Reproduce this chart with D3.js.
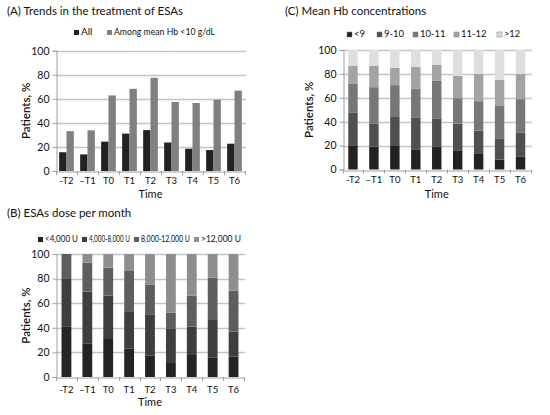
<!DOCTYPE html>
<html><head><meta charset="utf-8">
<script src="https://cdn.jsdelivr.net/npm/d3@7"></script>
<style>
body{margin:0;background:#fff;}
svg{display:block;font-family:Lato,"Open Sans",sans-serif;}
</style></head>
<body>
<script>
// ---- data ----
const categories = ["-T2", "\u2013T1", "T0", "T1", "T2", "T3", "T4", "T5", "T6"];
const yTicks = [0, 20, 40, 60, 80, 100];

// (A) Trends in the treatment of ESAs
const treatSeries = ["All", "Among mean Hb <10 g/dL"];
const treatAll   = [15.6, 13.8, 24.4, 31.1, 34.0, 23.7, 18.5, 17.4, 22.7];
const treatLowHb = [33.1, 33.8, 62.8, 68.3, 77.5, 57.4, 56.5, 59.3, 66.8];

// (C) Mean Hb concentrations
const hbSeries = ["<9", "9-10", "10-11", "11-12", ">12"];
const hbLt9    = [20.3, 19.2, 20.3, 16.4, 18.9, 16.1, 13.0, 8.3, 10.6];
const hb9to10  = [27.5, 19.4, 23.6, 27.2, 23.9, 22.2, 19.5, 17.8, 20.5];
const hb10to11 = [24.2, 30.3, 26.7, 23.9, 31.4, 21.4, 24.7, 27.5, 27.8];
const hb11to12 = [14.7, 17.8, 14.4, 18.3, 13.6, 18.6, 22.8, 21.4, 21.1];
const hbGt12   = [13.3, 13.3, 15.0, 14.2, 12.2, 21.7, 20.0, 25.0, 20.0];

// (B) ESAs dose per month
const doseSeries = ["<4,000 U", "4,000-8,000 U", "8,000-12,000 U", ">12,000 U"];
const doseLt4k   = [40.8, 27.0, 31.6, 23.0, 17.3, 11.4, 18.6, 16.0, 16.8];
const dose4to8k  = [38.9, 42.5, 34.6, 30.5, 33.7, 28.1, 22.4, 31.0, 20.2];
const dose8to12k = [20.3, 23.5, 22.7, 32.7, 23.9, 12.9, 25.0, 33.8, 33.3];
const doseGt12k  = [0.0, 7.0, 11.1, 13.8, 25.1, 47.6, 34.0, 19.2, 29.7];

// ---- drawing ----
const svg = d3.select("body").append("svg").attr("width", 550).attr("height", 415);

function panel(cfg) {
  const g = svg.append("g");
  const x = d3.scaleBand().domain(categories).range([cfg.x0, cfg.x1]);
  const y = d3.scaleLinear().domain([0, 100]).range([cfg.y0, cfg.y1]);

  // title
  g.append("text").attr("x", cfg.titleX).attr("y", cfg.titleY)
    .attr("font-size", 11.5).attr("fill", "#111").text(cfg.title);

  // gridlines
  g.append("g").selectAll("line").data(yTicks.filter(d => d > 0)).join("line")
    .attr("x1", cfg.x0).attr("x2", cfg.x1 + 1)
    .attr("y1", d => Math.round(y(d)) + 0.5).attr("y2", d => Math.round(y(d)) + 0.5)
    .attr("stroke", "#c4c4c4").attr("stroke-width", 1.3);

  // y axis
  const ya = g.append("g").attr("transform", `translate(${Math.round(cfg.x0) + 0.5},0)`)
    .call(d3.axisLeft(y).tickValues(yTicks).tickSize(4).tickPadding(3));
  ya.select(".domain").attr("stroke", "#a0a0a0");
  ya.selectAll(".tick line").attr("stroke", "#a0a0a0");
  ya.selectAll(".tick text").attr("font-size", 10.5).attr("fill", "#111").attr("font-family", "Lato, sans-serif");

  // bars
  cfg.drawBars(g, x, y);

  // x axis
  const xa = g.append("g").attr("transform", `translate(0,${Math.round(cfg.y0) + 0.5})`)
    .call(d3.axisBottom(x).tickSize(0).tickPadding(cfg.xPad));
  xa.select(".domain").attr("stroke", "#a0a0a0");
  xa.selectAll(".tick text").attr("font-size", 9.5).attr("fill", "#111").attr("font-family", "Lato, sans-serif");
  // category separator ticks
  g.append("g").selectAll("line").data(d3.range(categories.length + 1)).join("line")
    .attr("x1", i => Math.round(cfg.x0 + i * x.step()) + 0.5)
    .attr("x2", i => Math.round(cfg.x0 + i * x.step()) + 0.5)
    .attr("y1", cfg.y0).attr("y2", cfg.y0 + 4)
    .attr("stroke", "#a0a0a0");

  // axis titles
  g.append("text").attr("x", (cfg.x0 + cfg.x1) / 2).attr("y", cfg.timeY)
    .attr("text-anchor", "middle").attr("font-size", 11).attr("fill", "#111").text("Time");
  g.append("text").attr("transform", `translate(${cfg.ylabX},${(cfg.y0 + cfg.y1) / 2}) rotate(-90)`)
    .attr("text-anchor", "middle").attr("font-size", 11.5).attr("font-weight", 600)
    .attr("fill", "#111").text("Patients, %");

  // legend
  const lg = g.append("g");
  cfg.legend.forEach((s, i) => {
    const lx = cfg.legX[i];
    lg.append("rect").attr("x", lx).attr("y", cfg.legY - 3).attr("width", cfg.legSq).attr("height", cfg.legSq)
      .attr("fill", cfg.colors[i]).attr("stroke", cfg.legStroke ? "#777" : "none").attr("stroke-width", 0.5);
    const t = lg.append("text").attr("x", lx + cfg.legSq + 2).attr("y", cfg.legY + cfg.legSq - 3)
      .attr("font-size", cfg.legFont).attr("fill", "#111").text(s);
    const maxW = (i + 1 < cfg.legX.length ? cfg.legX[i + 1] - 4 : cfg.legEnd) - (lx + cfg.legSq + 2);
    const w = t.node().getComputedTextLength();
    if (w > maxW) t.attr("textLength", maxW).attr("lengthAdjust", "spacingAndGlyphs");
  });
}

function stacked(seriesArrays, colors, widthFrac) {
  return (g, x, y) => {
    const rows = categories.map((c, i) => {
      const r = { cat: c };
      seriesArrays.forEach((arr, k) => r["s" + k] = arr[i]);
      return r;
    });
    const keys = seriesArrays.map((a, k) => "s" + k);
    const st = d3.stack().keys(keys)(rows);
    const w = x.bandwidth() * widthFrac;
    g.append("g").selectAll("g").data(st).join("g")
      .attr("fill", (d, k) => colors[k])
      .selectAll("rect").data(d => d).join("rect")
      .attr("x", d => x(d.data.cat) + (x.bandwidth() - w) / 2)
      .attr("width", w)
      .attr("y", d => y(d[1]))
      .attr("height", d => y(d[0]) - y(d[1]));
  };
}

const colorsA = ["#222222", "#808080"];
panel({
  title: "(A) Trends in the treatment of ESAs", titleX: 7, titleY: 15,
  x0: 56, x1: 245, y0: 171, y1: 50.7, xPad: 6, timeY: 198, ylabX: 30,
  legend: treatSeries, colors: colorsA, legX: [74, 107], legEnd: 215, legY: 33, legSq: 5, legFont: 10,
  drawBars: (g, x, y) => {
    const x1 = d3.scaleBand().domain([0, 1]).range([0, x.bandwidth() * 0.7]);
    const off = x.bandwidth() * 0.15;
    [treatAll, treatLowHb].forEach((arr, k) => {
      g.append("g").attr("fill", colorsA[k]).selectAll("rect").data(arr).join("rect")
        .attr("x", (d, i) => x(categories[i]) + off + x1(k))
        .attr("width", x1.bandwidth())
        .attr("y", d => y(d)).attr("height", d => y(0) - y(d));
    });
  }
});

const colorsC = ["#222222", "#505050", "#777777", "#a3a3a3", "#dedede"];
panel({
  title: "(C) Mean Hb concentrations", titleX: 285, titleY: 15,
  x0: 342.5, x1: 531, y0: 169.5, y1: 50, xPad: 6, timeY: 197.5, ylabX: 313,
  legend: hbSeries, colors: colorsC, legX: [347, 377, 413, 454, 497], legEnd: 520, legY: 35, legSq: 5, legFont: 9.5, legStroke: true,
  drawBars: stacked([hbLt9, hb9to10, hb10to11, hb11to12, hbGt12], colorsC, 0.45)
});

const colorsB = ["#242424", "#3e3e3e", "#5e5e5e", "#8e8e8e"];
panel({
  title: "(B) ESAs dose per month", titleX: 7, titleY: 217,
  x0: 56, x1: 244, y0: 377, y1: 254, xPad: 9, timeY: 406, ylabX: 30,
  legend: doseSeries, colors: colorsB, legX: [38, 82, 134, 194], legEnd: 248, legY: 240, legSq: 5, legFont: 8.5,
  drawBars: stacked([doseLt4k, dose4to8k, dose8to12k, doseGt12k], colorsB, 0.47)
});
</script>
</body></html>
